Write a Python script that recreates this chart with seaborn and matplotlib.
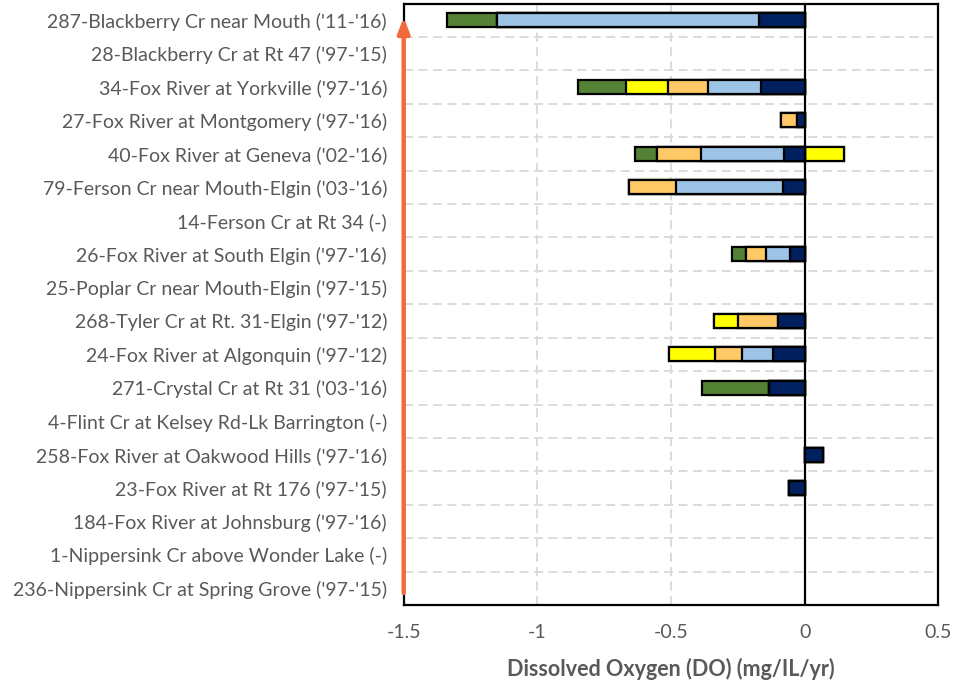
import numpy as np
import pandas as pd
import matplotlib
matplotlib.use("Agg")
import matplotlib.pyplot as plt
import seaborn as sns

sites = [
    "287-Blackberry Cr near Mouth ('11-'16)",
    "28-Blackberry Cr at Rt 47 ('97-'15)",
    "34-Fox River at Yorkville ('97-'16)",
    "27-Fox River at Montgomery ('97-'16)",
    "40-Fox River at Geneva ('02-'16)",
    "79-Ferson Cr near Mouth-Elgin ('03-'16)",
    "14-Ferson Cr at Rt 34 (-)",
    "26-Fox River at South Elgin ('97-'16)",
    "25-Poplar Cr near Mouth-Elgin ('97-'15)",
    "268-Tyler Cr at Rt. 31-Elgin ('97-'12)",
    "24-Fox River at Algonquin ('97-'12)",
    "271-Crystal Cr at Rt 31 ('03-'16)",
    "4-Flint Cr at Kelsey Rd-Lk Barrington (-)",
    "258-Fox River at Oakwood Hills ('97-'16)",
    "23-Fox River at Rt 176 ('97-'15)",
    "184-Fox River at Johnsburg ('97-'16)",
    "1-Nippersink Cr above Wonder Lake (-)",
    "236-Nippersink Cr at Spring Grove ('97-'15)",
]

# segment values (mg/L/yr), stacked outward from zero in this order
navy      = [-0.172, 0, -0.164, -0.027, -0.078, -0.081, 0, -0.056, 0, -0.098, -0.120, -0.133, 0, 0.067, -0.058, 0, 0, 0]
lightblue = [-0.979, 0, -0.196, 0, -0.311, -0.402, 0, -0.090, 0, 0, -0.113, 0, 0, 0, 0, 0, 0, 0]
orange    = [0, 0, -0.151, -0.060, -0.165, -0.174, 0, -0.074, 0, -0.152, -0.103, 0, 0, 0, 0, 0, 0, 0]
yellow    = [0, 0, -0.157, 0, 0.149, 0, 0, 0, 0, -0.090, -0.170, 0, 0, 0, 0, 0, 0, 0]
green     = [-0.188, 0, -0.181, 0, -0.082, 0, 0, -0.053, 0, 0, 0, -0.251, 0, 0, 0, 0, 0, 0]

series = [navy, lightblue, orange, yellow, green]
colors = ["#002060", "#9DC3E6", "#FFCA66", "#FFFF00", "#548235"]

sns.set_style("white")
plt.rcParams["font.family"] = ["Lato", "DejaVu Sans"]

W, H = 959, 682
fig = plt.figure(figsize=(W / 100, H / 100), dpi=100)
ax = fig.add_axes([403.7 / W, 1 - 605 / H, (938.3 - 403.7) / W, (605 - 3.5) / H])

arr = np.array(series)
neg = np.where(arr < 0, arr, 0.0)
pos = np.where(arr > 0, arr, 0.0)
neg_cum = np.cumsum(neg, axis=0)
pos_cum = np.cumsum(pos, axis=0)

# draw from outermost cumulative to innermost so segments show as stacked
for k in range(len(series) - 1, -1, -1):
    for cum in (neg_cum, pos_cum):
        df = pd.DataFrame({"site": sites, "val": cum[k]})
        df = df[df["val"] != 0]
        if df.empty:
            continue
        sns.barplot(data=df, y="site", x="val", order=sites, orient="h",
                    color=colors[k], edgecolor="black", linewidth=1.6,
                    width=0.42, saturation=1, ax=ax, zorder=3)

ax.set_xlim(-1.5, 0.5)
ax.set_ylim(len(sites) - 0.5, -0.5)
ax.set_xticks([-1.5, -1, -0.5, 0, 0.5])
ax.set_xticklabels(["-1.5", "-1", "-0.5", "0", "0.5"])

# gridlines
for x in [-1, -0.5]:
    ax.axvline(x, color="#D9D9D9", lw=1.3, ls=(0, (5, 3)), zorder=1)
for i in range(len(sites) - 1):
    ax.axhline(i + 0.5, color="#D9D9D9", lw=1.3, ls=(0, (5, 3)), zorder=1)
ax.axvline(0, color="black", lw=1.6, zorder=4)

for s in ax.spines.values():
    s.set_visible(True)
    s.set_color("black")
    s.set_linewidth(1.6)

ax.tick_params(axis="both", length=0, labelsize=14, labelcolor="#595959")
ax.tick_params(axis="y", pad=12)
ax.tick_params(axis="x", pad=14)
ax.set_ylabel("")
ax.set_xlabel("Dissolved Oxygen (DO) (mg/IL/yr)", fontsize=15.5, fontweight="bold",
              color="#595959", labelpad=12)

# orange arrow along left edge
ax.annotate("", xy=(0.0, 0.977), xytext=(0.0, 0.02), xycoords="axes fraction",
            textcoords="axes fraction",
            arrowprops=dict(arrowstyle="-|>,head_length=0.9,head_width=0.35",
                            color="#F26B3A", lw=3.2, shrinkA=0, shrinkB=0),
            zorder=6, annotation_clip=False)

fig.savefig("out.png", dpi=100)
